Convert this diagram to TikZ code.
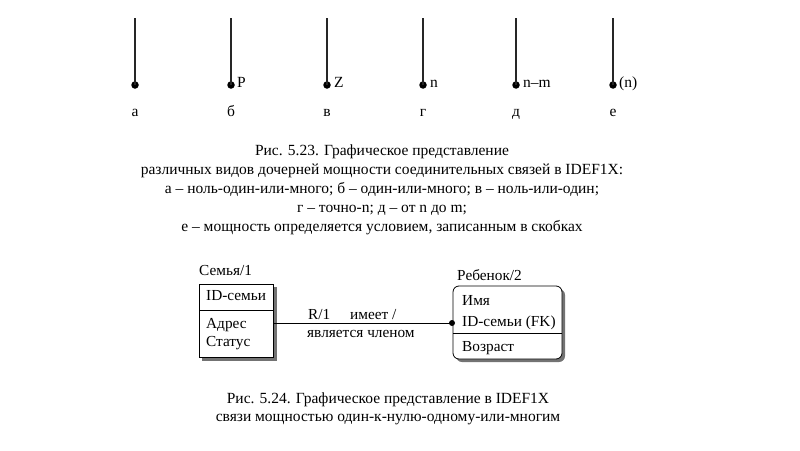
\documentclass[tikz,border=0pt]{standalone}
\usepackage{fontspec}
\setmainfont{Liberation Serif}
\begin{document}
\begin{tikzpicture}[x=1pt,y=-1pt,
  stem/.style={line width=1.4pt, draw=black!85},
  dotc/.style={circle, fill=black, inner sep=0pt, minimum size=7.5pt},
  lbl/.style={font=\fontsize{15.5}{18}\selectfont, anchor=base west, inner sep=0pt},
  sub/.style={font=\fontsize{15.5}{18}\selectfont, anchor=base, inner sep=0pt},
  captxt/.style={font=\fontsize{15.5}{19}\selectfont, anchor=base, inner sep=0pt},
  ent/.style={font=\fontsize{15.3}{18}\selectfont, anchor=base west, inner sep=0pt},
  box/.style={draw=black, line width=0.8pt, fill=white},
  shade/.style={fill=black!55, draw=none},
  rel/.style={line width=0.8pt, draw=black}]
\useasboundingbox (0,0) rectangle (800,450);
% --- top row of cardinality symbols
\foreach \n/\x in {a/135,b/231,c/327,d/423,e/516,f/613}{
  \coordinate (t\n) at (\x,18);
  \node[dotc] (d\n) at (\x,85) {};
  \draw[stem] (t\n) -- (d\n.center);
}
\node[lbl] (pb) at (237,87) {P};
\node[lbl] (pc) at (334,87) {Z};
\node[lbl] (pd) at (430,87) {n};
\node[lbl] (pe) at (523,87) {n–m};
\node[lbl] (pf) at (619,87) {(n)};
\node[sub] (la) at (135,116) {а};
\node[sub] (lb) at (231,116) {б};
\node[sub] (lc) at (327,116) {в};
\node[sub] (ld) at (423,116) {г};
\node[sub] (le) at (516,116) {д};
\node[sub] (lf) at (613,116) {е};
% --- caption 1
\node[captxt] (c1a) at (382,155) {Рис. 5.23. Графическое представление};
\node[captxt] (c1b) at (382,174) {различных видов дочерней мощности соединительных связей в IDEF1X:};
\node[captxt] (c1c) at (382,193) {а – ноль-один-или-много; б – один-или-много; в – ноль-или-один;};
\node[captxt] (c1d) at (382,212) {г – точно-n; д – от n до m;};
\node[captxt] (c1e) at (382,231) {е – мощность определяется условием, записанным в скобках};
% --- parent entity
\fill[shade] (202,287) rectangle (277,361);
\draw[box] (199,284) rectangle (273,357);
\draw[line width=0.8pt] (199,310) -- (273,310);
\node[ent] (pname) at (199,275) {Семья/1};
\node[ent] (pk1) at (206,300) {ID-семьи};
\node[ent] (at1) at (206,328) {Адрес};
\node[ent] (at2) at (206,346) {Статус};
\coordinate (pr) at (273,323);
% --- child entity
\fill[shade, rounded corners=6pt] (456,289) rectangle (565,362);
\draw[box, rounded corners=6pt] (453,286) rectangle (562,359);
\draw[line width=0.8pt] (453,333) -- (562,333);
\node[ent] (cname) at (457,280) {Ребенок/2};
\node[ent] (ck1) at (462,305) {Имя};
\node[ent] (ck2) at (462,326) {ID-семьи (FK)};
\node[ent] (ca1) at (462,351) {Возраст};
\node[dotc, minimum size=6pt] (cdot) at (452,323) {};
\draw[rel] (pr) -- (cdot.center);
\node[ent] (rl1) at (308,319) {R/1};
\node[ent] (rl2) at (350,319) {имеет /};
\node[ent] (rl3) at (307,337) {является членом};
% --- caption 2
\node[captxt] (c2a) at (388,403) {Рис. 5.24. Графическое представление в IDEF1X};
\node[captxt] (c2b) at (388,421) {связи мощностью один-к-нулю-одному-или-многим};
\end{tikzpicture}
\end{document}
